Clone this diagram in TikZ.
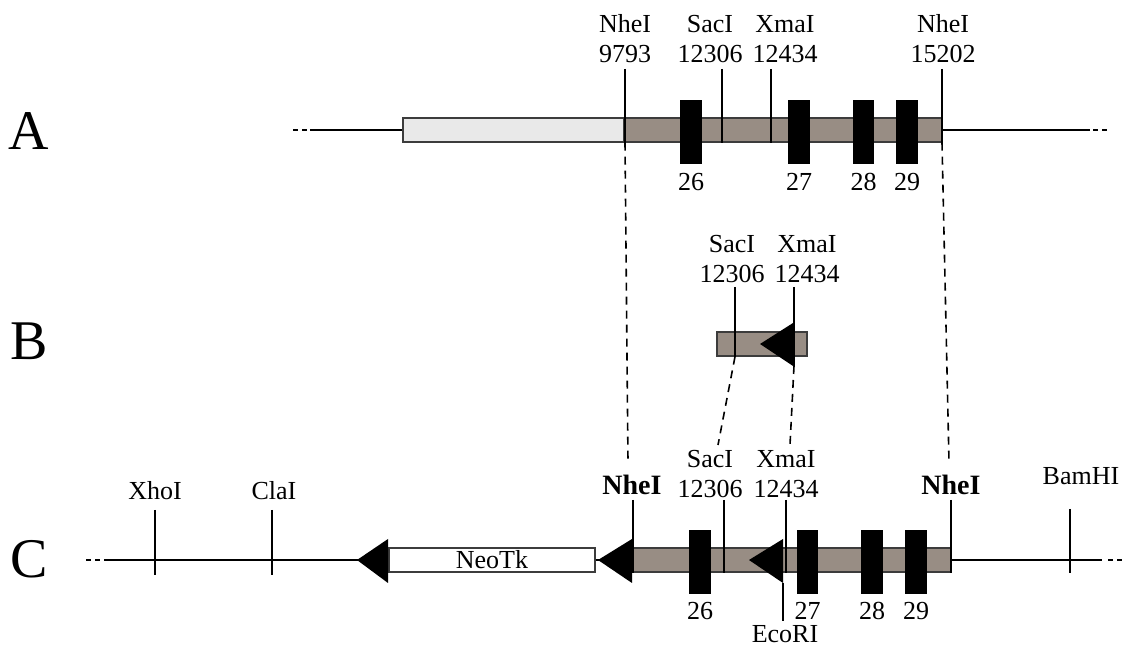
\documentclass[tikz,border=0pt]{standalone}
\usepackage{fontspec}
\setmainfont{Liberation Serif}
\usetikzlibrary{calc,positioning,fit}
\definecolor{genebrown}{RGB}{152,141,132}
\definecolor{upgray}{RGB}{233,233,233}
\definecolor{edgegray}{RGB}{60,60,60}
\tikzset{
   backbone/.style={line width=1.3pt},
   backbone end/.style={line width=1.3pt, dash pattern=on 2.5pt off 2pt},
   site/.style={line width=0.65pt},
   projection/.style={line width=0.8pt, dash pattern=on 4pt off 3pt},
   genomic/.style={rectangle, draw=edgegray, line width=0.7pt, fill=genebrown, inner sep=0pt},
   upstream/.style={genomic, fill=upgray},
   cassette/.style={genomic, fill=white},
   exon/.style={rectangle, fill=black, inner sep=0pt},
   lbl/.style={align=center, anchor=south, inner sep=0pt, font=\fontsize{13}{15}\selectfont},
   bold lbl/.style={lbl, font=\fontsize{14}{15}\selectfont\bfseries},
   exon num/.style={inner sep=0pt, font=\fontsize{13}{15}\selectfont},
   row/.style={anchor=base, inner sep=0pt, font=\fontsize{28}{30}\selectfont}
}
\begin{document}
\begin{tikzpicture}[x=0.5pt,y=-0.5pt]
  \useasboundingbox (0,0) rectangle (1125,646);

  \node[row] at (29,150) (rowA) {A};
  \node[row] at (29,360) (rowB) {B};
  \node[row] at (29,578) (rowC) {C};

  % A: genomic locus
  \coordinate (a-left)  at (310,130);
  \coordinate (a-right) at (1090,130);
  \draw[backbone end] (293,130) -- (307,130);
  \draw[backbone end] (1093,130) -- (1109,130);
  \node[upstream, fit={(403,118) (624,142)}] (a-up)   {};
  \node[genomic,  fit={(624,118) (942,142)}] (a-gene) {};
  \draw[backbone] (a-left) -- (a-up.west);
  \draw[backbone] (a-gene.east) -- (a-right);

  \node[exon, fit={(680,100) (702,164)}] (a26) {};
  \node[exon, fit={(788,100) (810,164)}] (a27) {};
  \node[exon, fit={(853,100) (874,164)}] (a28) {};
  \node[exon, fit={(896,100) (918,164)}] (a29) {};
  \node[exon num, below=4pt of a26] (a26-n) {26};
  \node[exon num, below=4pt of a27] (a27-n) {27};
  \node[exon num, below=4pt of a28] (a28-n) {28};
  \node[exon num, below=4pt of a29] (a29-n) {29};

  \coordinate (a-nhe1) at (625,69);
  \coordinate (a-sac)  at (722,69);
  \coordinate (a-xma)  at (771,69);
  \coordinate (a-nhe2) at (942,69);
  \node[lbl] at (625,63) (a-nhe1-l) {NheI\\9793};
  \node[lbl] at (710,63) (a-sac-l)  {SacI\\12306};
  \node[lbl] at (785,63) (a-xma-l)  {XmaI\\12434};
  \node[lbl] at (943,63) (a-nhe2-l) {NheI\\15202};
  \draw[site] (a-nhe1) -- (a-nhe1 |- a-gene.south);
  \draw[site] (a-sac)  -- (a-sac |- a-gene.south);
  \draw[site] (a-xma)  -- (a-xma |- a-gene.south);
  \draw[site] (a-nhe2) -- (a-nhe2 |- a-gene.south);

  % B: SacI-XmaI fragment
  \node[genomic, fit={(717,332) (807,356)}] (b-frag) {};
  \fill (760,344) -- (793,323) -- (793,366) -- cycle;
  \coordinate (b-sac) at (735,287);
  \coordinate (b-xma) at (794,287);
  \node[lbl] at (732,283) (b-sac-l) {SacI\\12306};
  \node[lbl] at (807,283) (b-xma-l) {XmaI\\12434};
  \draw[site] (b-sac) -- (b-sac |- b-frag.south);
  \draw[site] (b-xma) -- (794,366) coordinate (b-xma-end);

  % C: targeting construct
  \coordinate (c-left)  at (104,560);
  \coordinate (c-right) at (1102,560);
  \draw[backbone end] (86,560) -- (100,560);
  \draw[backbone end] (1108,560) -- (1124,560);
  \node[cassette, fit={(389,548) (595,572)}] (neotk) {};
  \node[genomic,  fit={(633,548) (951,572)}] (c-gene) {};
  \draw[backbone] (c-left) -- (neotk.west);
  \draw[backbone] (neotk.east) -- (c-gene.west);
  \draw[backbone] (c-gene.east) -- (c-right);
  \node[font=\fontsize{13}{15}\selectfont, inner sep=0pt] at (neotk.center) (neotk-l) {NeoTk};

  \fill (357,560) -- (388,539) -- (388,583) -- cycle;
  \fill (598,560) -- (632,539) -- (632,583) -- cycle;
  \fill (749,560) -- (783,539) -- (783,583) -- cycle;

  \node[exon, fit={(689,530) (711,594)}] (c26) {};
  \node[exon, fit={(797,530) (818,594)}] (c27) {};
  \node[exon, fit={(861,530) (883,594)}] (c28) {};
  \node[exon, fit={(905,530) (927,594)}] (c29) {};
  \node[exon num, below=3.5pt of c26] (c26-n) {26};
  \node[exon num, below=3.5pt of c27] (c27-n) {27};
  \node[exon num, below=3.5pt of c28] (c28-n) {28};
  \node[exon num, below=3.5pt of c29] (c29-n) {29};

  \coordinate (c-xho)  at (155,510);
  \coordinate (c-cla)  at (272,510);
  \coordinate (c-nhe1) at (633,500);
  \coordinate (c-sac)  at (724,500);
  \coordinate (c-xma)  at (786,500);
  \coordinate (c-nhe2) at (951,500);
  \coordinate (c-bam)  at (1070,509);
  \coordinate (c-eco)  at (783,583);
  \node[lbl] at (155,500)  (c-xho-l)  {XhoI};
  \node[lbl] at (274,500)  (c-cla-l)  {ClaI};
  \node[bold lbl] at (632,495) (c-nhe1-l) {NheI};
  \node[lbl] at (710,498)  (c-sac-l)  {SacI\\12306};
  \node[lbl] at (786,498)  (c-xma-l)  {XmaI\\12434};
  \node[bold lbl] at (951,495) (c-nhe2-l) {NheI};
  \node[lbl] at (1081,485) (c-bam-l)  {BamHI};
  \node[lbl, anchor=north] at (785,625) (c-eco-l) {EcoRI};
  \draw[site] (c-xho)  -- (155,575);
  \draw[site] (c-cla)  -- (272,575);
  \draw[site] (c-bam)  -- (1070,573);
  \draw[site] (c-nhe1) -- (c-nhe1 |- c-gene.south);
  \draw[site] (c-sac)  -- (c-sac |- c-gene.south);
  \draw[site] (c-xma)  -- (c-xma |- c-gene.south);
  \draw[site] (c-nhe2) -- (c-nhe2 |- c-gene.south);
  \draw[site] (c-eco)  -- (783,621);

  % projections between A, B and C
  \coordinate (c-nhe1-p) at (628,462);
  \coordinate (c-nhe2-p) at (949,462);
  \coordinate (c-sac-p)  at (718,445);
  \coordinate (c-xma-p)  at (790,445);
  \draw[projection] (a-nhe1 |- a-gene.south) -- (c-nhe1-p);
  \draw[projection] (a-nhe2 |- a-gene.south) -- (c-nhe2-p);
  \draw[projection] (b-sac |- b-frag.south) -- (c-sac-p);
  \draw[projection] (b-xma-end) -- (c-xma-p);
\end{tikzpicture}
\end{document}
